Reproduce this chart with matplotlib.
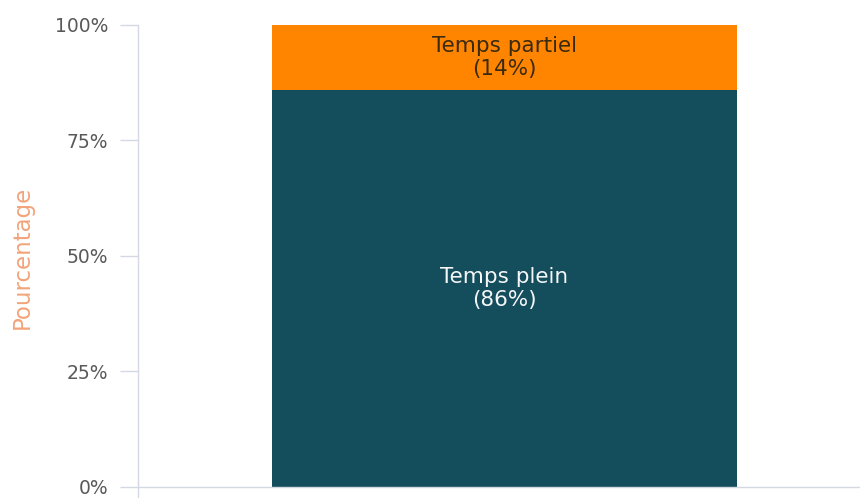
import matplotlib
matplotlib.use("Agg")
import matplotlib.pyplot as plt
from matplotlib.ticker import FuncFormatter

categories = [""]
labels = ["Temps plein", "Temps partiel"]
values = [86, 14]
colors = ["#144D5C", "#FF8500"]
text_colors = ["#F4F6F7", "#3A2A10"]
yticks = [0, 25, 50, 75, 100]

plt.rcParams['font.family'] = ['DejaVu Sans']

fig = plt.figure(figsize=(8.6, 4.98), dpi=100)
ax = fig.add_axes([138/860, 0.0, 1 - 138/860, (498 - 25) / 498])

bottom = 0
for lab, v, c, tc in zip(labels, values, colors, text_colors):
    ax.bar(0, v, width=1.0, bottom=bottom, color=c, edgecolor="none")
    ax.text(0, bottom + v / 2, f"{lab}\n({v}%)", ha="center", va="center",
            color=tc, fontsize=15.5, linespacing=1.2)
    bottom += v

ax.set_xlim(-0.788, 0.7645)
ax.set_ylim(-2.4, 100)
ax.set_yticks(yticks)
ax.yaxis.set_major_formatter(FuncFormatter(lambda v, p: f"{int(v)}%"))
ax.set_xticks([])

spine_col = "#D3D8E3"
for s in ["top", "right"]:
    ax.spines[s].set_visible(False)
ax.spines["bottom"].set_position(("data", 0))
ax.spines["bottom"].set_color(spine_col)
ax.spines["left"].set_color(spine_col)
ax.spines["bottom"].set_linewidth(1.0)
ax.spines["left"].set_linewidth(1.0)
ax.tick_params(axis="y", length=13, width=1.0, color=spine_col, pad=8.5,
               labelsize=13.5, labelcolor="#595959")

fig.text(22/860, 1 - 257/498, "Pourcentage", rotation=90, ha="center", va="center",
         color="#F2A47A", fontsize=16.5)

fig.savefig("out.png", dpi=100)
